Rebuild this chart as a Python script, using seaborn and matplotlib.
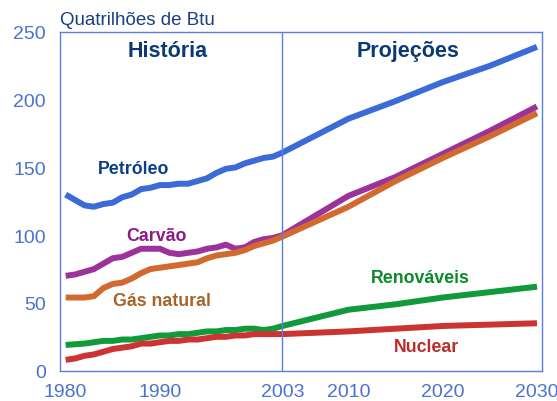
import numpy as np
import pandas as pd
import seaborn as sns
import matplotlib.pyplot as plt

# anos: historico anual + projecoes
years_hist = list(range(1980, 2004))
years_proj = [2010, 2015, 2020, 2025, 2030]

petroleo_hist = [130, 126, 122, 121, 123, 124, 128, 130, 134, 135, 137, 137,
                 138, 138, 140, 142, 146, 149, 150, 153, 155, 157, 158, 161]
petroleo_proj = [186, 199, 213, 225, 239]

carvao_hist = [70, 71, 73, 75, 79, 83, 84, 87, 90, 90, 90, 87,
               86, 87, 88, 90, 91, 93, 90, 91, 95, 97, 98, 100]
carvao_proj = [129, 143, 160, 177, 195]

gas_hist = [54, 54, 54, 55, 61, 64, 65, 68, 72, 75, 76, 77,
            78, 79, 80, 83, 85, 86, 87, 89, 92, 94, 96, 99]
gas_proj = [121, 140, 157, 173, 190]

renov_hist = [19, 19.5, 20, 21, 22, 22, 23, 23, 24, 25, 26, 26,
              27, 27, 28, 29, 29, 30, 30, 31, 31, 30, 31, 33]
renov_proj = [45, 49, 54, 58, 62]

nuclear_hist = [8, 9, 11, 12, 14, 16, 17, 18, 20, 20, 21, 22,
                22, 23, 23, 24, 25, 25, 26, 26, 27, 27, 27, 27]
nuclear_proj = [29, 31, 33, 34, 35]

series = {
    "Petróleo": petroleo_hist + petroleo_proj,
    "Carvão": carvao_hist + carvao_proj,
    "Gás natural": gas_hist + gas_proj,
    "Renováveis": renov_hist + renov_proj,
    "Nuclear": nuclear_hist + nuclear_proj,
}
years = years_hist + years_proj

rows = []
for name, vals in series.items():
    for y, v in zip(years, vals):
        rows.append({"Ano": y, "Valor": v, "Fonte": name})
df = pd.DataFrame(rows)

line_colors = {"Petróleo": "#3a6bd6", "Carvão": "#9b339b", "Gás natural": "#d2692f",
               "Renováveis": "#119a3a", "Nuclear": "#cc3333"}
text_colors = {"Petróleo": "#0d3f86", "Carvão": "#8a1a8a", "Gás natural": "#a8632a",
               "Renováveis": "#0c8a2a", "Nuclear": "#bb2b2b"}

sns.set_style("white")
plt.rcParams["font.family"] = ["Liberation Sans", "DejaVu Sans"]

fig = plt.figure(figsize=(5.57, 4.02), dpi=100)
ax = fig.add_axes([0.1077, 0.0754, 0.8648, 0.8426])

sns.lineplot(data=df, x="Ano", y="Valor", hue="Fonte", palette=line_colors,
             linewidth=4.3, legend=False, ax=ax, solid_capstyle="butt")

ax.axvline(2003, color="#5a7fdc", linewidth=1)

ax.set_xlim(1979.4, 2030.5)
ax.set_ylim(0, 250)
ax.set_xticks([1980, 1990, 2003, 2010, 2020, 2030])
ax.set_yticks([0, 50, 100, 150, 200, 250])
ax.set_xlabel("")
ax.set_ylabel("")
for s in ax.spines.values():
    s.set_color("#5a7fdc")
    s.set_linewidth(1)
ax.tick_params(axis="both", colors="#5a7fdc", labelcolor="#4a72cf",
               labelsize=14, width=1, direction="out")
ax.tick_params(axis="y", length=5, pad=5)
ax.tick_params(axis="x", length=0, pad=9)

ax.text(0.0, 1.012, "Quatrilhões de Btu", transform=ax.transAxes,
        ha="left", va="bottom", fontsize=13.5, color="#17407e")
ax.text(1990.8, 236, "História", ha="center", va="center", fontsize=15.5,
        fontweight="bold", color="#0a3a75")
ax.text(2016.3, 236, "Projeções", ha="center", va="center", fontsize=15.5,
        fontweight="bold", color="#0a3a75")

labels = {"Petróleo": (1987.2, 149), "Carvão": (1989.6, 100),
          "Gás natural": (1990.2, 52), "Renováveis": (2017.6, 69),
          "Nuclear": (2018.3, 18)}
for name, (lx, ly) in labels.items():
    ax.text(lx, ly, name, ha="center", va="center", fontsize=12.8,
            fontweight="bold", color=text_colors[name])

fig.savefig("out.png", dpi=100)
